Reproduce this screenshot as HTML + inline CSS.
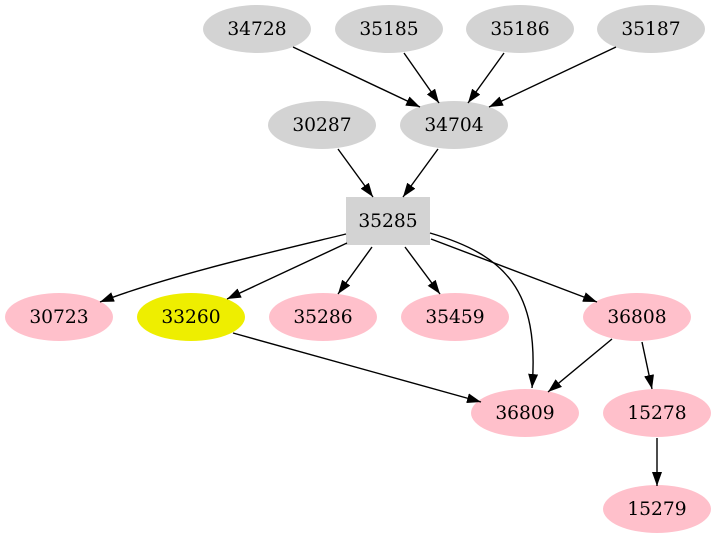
<!DOCTYPE html>
<html><head><meta charset="utf-8"><style>
html,body{margin:0;padding:0;background:#fff;}
svg{display:block;}
text{font-family:"DejaVu Serif","Liberation Serif",serif;font-size:18.67px;fill:#000;text-anchor:middle;}
</style></head><body>
<svg width="715" height="539" viewBox="0 0 715 539" xmlns="http://www.w3.org/2000/svg">
<defs>
<marker id="a" markerWidth="14" markerHeight="10" refX="14" refY="5" orient="auto" markerUnits="userSpaceOnUse">
<path d="M0,0 L14,5 L0,10 z" fill="#000"/>
</marker>
</defs>
<rect width="715" height="539" fill="#fff"/>
<!-- nodes -->
<g fill="#d3d3d3">
<ellipse cx="257" cy="29" rx="54" ry="24"/>
<ellipse cx="389" cy="29" rx="54" ry="24"/>
<ellipse cx="520" cy="29" rx="54" ry="24"/>
<ellipse cx="651" cy="29" rx="54" ry="24"/>
<ellipse cx="322" cy="125" rx="54" ry="24"/>
<ellipse cx="454" cy="125" rx="54" ry="24"/>
<rect x="346" y="197" width="84" height="48"/>
</g>
<g fill="#ffc0cb">
<ellipse cx="59" cy="317" rx="54" ry="24"/>
<ellipse cx="323" cy="317" rx="54" ry="24"/>
<ellipse cx="455" cy="317" rx="54" ry="24"/>
<ellipse cx="637" cy="317" rx="54" ry="24"/>
<ellipse cx="525" cy="413" rx="54" ry="24"/>
<ellipse cx="657" cy="413" rx="54" ry="24"/>
<ellipse cx="657" cy="509" rx="54" ry="24"/>
</g>
<ellipse cx="191" cy="317" rx="54" ry="24" fill="#eeee00"/>
<!-- edges -->
<g fill="none" stroke="#000" stroke-width="1.4" marker-end="url(#a)">
<path d="M293,47 L420,107"/>
<path d="M404,53 L439,103"/>
<path d="M504,53 L468,103"/>
<path d="M616,47 L489,107"/>
<path d="M338,149 L373,197"/>
<path d="M438,149 L403,197"/>
<path d="M346,234 C280,250 170,275 100,302"/>
<path d="M347,243 L227,299"/>
<path d="M372,247 L338,294"/>
<path d="M405,247 L440,294"/>
<path d="M431,239 L597,302"/>
<path d="M430,233 C505,255 540,290 532,388"/>
<path d="M233,333 L481,402"/>
<path d="M612,339 L548,392"/>
<path d="M642,342 L652,389"/>
<path d="M657,438 L657,486"/>
</g>
<!-- labels -->
<text x="257" y="35">34728</text>
<text x="389" y="35">35185</text>
<text x="520" y="35">35186</text>
<text x="651" y="35">35187</text>
<text x="322" y="131">30287</text>
<text x="454" y="131">34704</text>
<text x="388" y="227">35285</text>
<text x="59" y="323">30723</text>
<text x="191" y="323">33260</text>
<text x="323" y="323">35286</text>
<text x="455" y="323">35459</text>
<text x="637" y="323">36808</text>
<text x="525" y="419">36809</text>
<text x="657" y="419">15278</text>
<text x="657" y="515">15279</text>
</svg>
</body></html>
